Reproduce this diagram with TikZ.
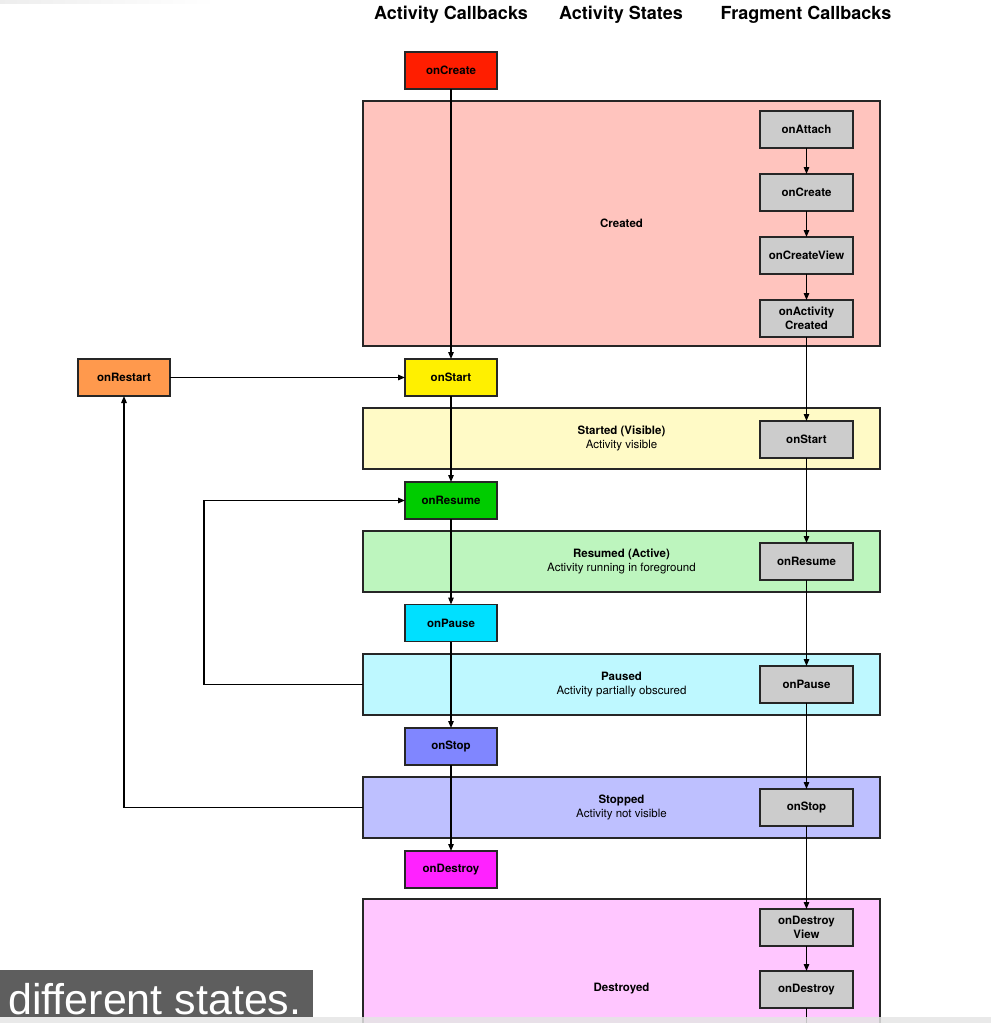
\documentclass[tikz,border=0pt]{standalone}
\usepackage{fontspec}
\setmainfont{TeX Gyre Heros}
\newfontfamily\captionfont{Liberation Sans}
\usetikzlibrary{arrows.meta}

\definecolor{cCreate}{RGB}{255,30,0}
\definecolor{cCreatedBg}{RGB}{255,196,190}
\definecolor{cRestart}{RGB}{255,153,77}
\definecolor{cStart}{RGB}{255,240,0}
\definecolor{cStartedBg}{RGB}{255,250,198}
\definecolor{cResume}{RGB}{0,204,0}
\definecolor{cResumedBg}{RGB}{189,245,190}
\definecolor{cPause}{RGB}{0,224,255}
\definecolor{cPausedBg}{RGB}{190,248,255}
\definecolor{cStop}{RGB}{128,134,255}
\definecolor{cStoppedBg}{RGB}{190,192,255}
\definecolor{cDestroy}{RGB}{255,34,255}
\definecolor{cDestroyedBg}{RGB}{255,198,255}
\definecolor{cFrag}{RGB}{204,204,204}
\definecolor{cCaption}{RGB}{94,94,94}

\tikzset{
  callback/.style={draw=black!85, line width=1.3pt, minimum width=92pt, minimum height=37pt,
    inner sep=0pt, outer sep=0pt, align=center,
    font=\fontsize{11.5}{14}\selectfont\bfseries},
  fragcb/.style={callback, fill=cFrag, minimum width=93pt},
  statebox/.style={draw=black!85, line width=1.3pt, minimum width=517pt,
    inner sep=0pt, outer sep=0pt, align=center,
    font=\fontsize{11.5}{14}\selectfont},
  header/.style={font=\fontsize{18}{21}\selectfont\bfseries, inner sep=0pt},
  arr/.style={draw=black, line width=1.2pt, -{Triangle[length=7pt,width=5.5pt]}},
  plain/.style={draw=black, line width=1.2pt},
}

\begin{document}
\begin{tikzpicture}[x=1pt,y=-1pt]
\useasboundingbox (0,0) rectangle (991,1023);
\begin{scope}
\clip (0,0) rectangle (991,1023);

% faint shade at the top left
\shade[left color=black!7, right color=white] (0,0) rectangle (215,3);

% column headers
\node[header] (hAct)  at (451,15) {Activity Callbacks};
\node[header] (hSt)   at (621,15) {Activity States};
\node[header] (hFrag) at (806,15) {Fragment Callbacks};

% activity state panels
\node[statebox, fill=cCreatedBg, minimum height=245pt] (created) at (621.5,223.5) {\bfseries Created};
\node[statebox, fill=cStartedBg, minimum height=61pt] (started) at (621.5,438.5)
  {{\bfseries Started (Visible)}\\Activity visible};
\node[statebox, fill=cResumedBg, minimum height=61pt] (resumed) at (621.5,561.5)
  {{\bfseries Resumed (Active)}\\Activity running in foreground};
\node[statebox, fill=cPausedBg, minimum height=61pt] (paused) at (621.5,684.5)
  {{\bfseries Paused}\\Activity partially obscured};
\node[statebox, fill=cStoppedBg, minimum height=61pt] (stopped) at (621.5,807.5)
  {{\bfseries Stopped}\\Activity not visible};
\node[statebox, fill=cDestroyedBg, minimum height=180pt] (destroyed) at (621.5,989)
  {\bfseries Destroyed};

% activity callbacks
\node[callback, fill=cCreate]  (aCreate)  at (451,70.5)  {onCreate};
\node[callback, fill=cRestart] (aRestart) at (124,377.5) {onRestart};
\node[callback, fill=cStart]   (aStart)   at (451,377.5) {onStart};
\node[callback, fill=cResume]  (aResume)  at (451,500.5) {onResume};
\node[callback, fill=cPause]   (aPause)   at (451,623)   {onPause};
\node[callback, fill=cStop]    (aStop)    at (451,746.5) {onStop};
\node[callback, fill=cDestroy] (aDestroy) at (451,869.5) {onDestroy};

% fragment callbacks
\node[fragcb] (fAttach)      at (806.5,129.5) {onAttach};
\node[fragcb] (fCreate)      at (806.5,192.5) {onCreate};
\node[fragcb] (fCreateView)  at (806.5,255.5) {onCreateView};
\node[fragcb] (fActCreated)  at (806.5,318.5) {onActivity\\Created};
\node[fragcb] (fStart)       at (806.5,439.5) {onStart};
\node[fragcb] (fResume)      at (806.5,561.5) {onResume};
\node[fragcb] (fPause)       at (806.5,684.5) {onPause};
\node[fragcb] (fStop)        at (806.5,807.5) {onStop};
\node[fragcb] (fDestroyView) at (806.5,927.5) {onDestroy\\View};
\node[fragcb] (fDestroy)     at (806.5,989.5) {onDestroy};
\coordinate (fEnd) at (806.5,1040);

% activity flow
\draw[arr] (aCreate.south) -- (aStart.north);
\draw[arr] (aRestart.east) -- (aStart.west);
\draw[arr] (aStart.south) -- (aResume.north);
\draw[arr] (aResume.south) -- (aPause.north);
\draw[arr] (aPause.south) -- (aStop.north);
\draw[arr] (aStop.south) -- (aDestroy.north);
\draw[arr] (paused.west) -- ++(-159,0) |- (aResume.west);
\draw[arr] (stopped.west) -| (aRestart.south);

% fragment flow
\draw[arr] (fAttach.south) -- (fCreate.north);
\draw[arr] (fCreate.south) -- (fCreateView.north);
\draw[arr] (fCreateView.south) -- (fActCreated.north);
\draw[arr] (fActCreated.south) -- (fStart.north);
\draw[arr] (fStart.south) -- (fResume.north);
\draw[arr] (fResume.south) -- (fPause.north);
\draw[arr] (fPause.south) -- (fStop.north);
\draw[arr] (fStop.south) -- (fDestroyView.north);
\draw[arr] (fDestroyView.south) -- (fDestroy.north);
\draw[plain] (fDestroy.south) -- (fEnd);

% caption strip
\fill[cCaption] (0,970) rectangle (313,1017);
\node[anchor=base west, inner sep=0pt, text=white, font=\captionfont\fontsize{43}{46}\selectfont]
  (caption) at (8,1014) {different states.};

% light band along the bottom edge
\fill[white!90!black, opacity=0.85] (0,1017) rectangle (991,1023);
\end{scope}
\end{tikzpicture}
\end{document}
